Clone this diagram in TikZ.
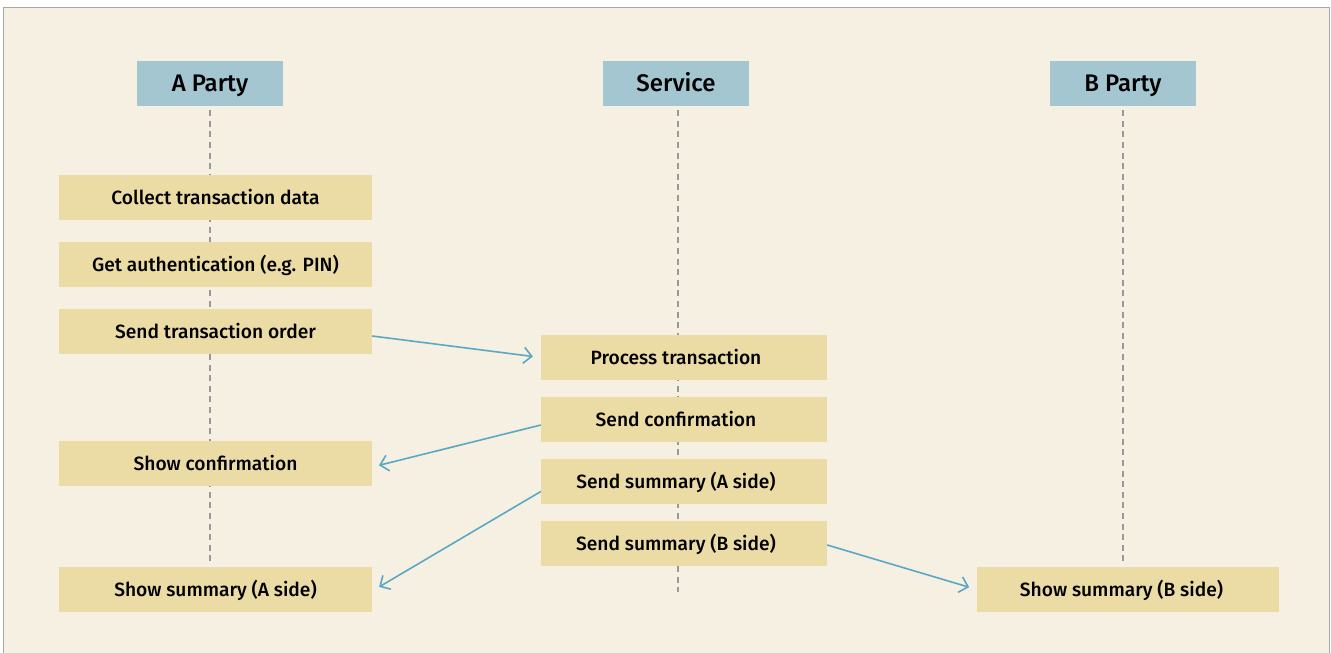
\documentclass[tikz,border=0pt]{standalone}
\usepackage{fontspec}
\setmainfont{Fira Sans}[UprightFont=* Medium, BoldFont=* SemiBold]
\usetikzlibrary{arrows.meta}
\definecolor{bgc}{HTML}{F5F0E2}
\definecolor{hdrc}{HTML}{A3C6D0}
\definecolor{boxc}{HTML}{EBDBA5}
\definecolor{arrc}{HTML}{5BA8C4}
\definecolor{framec}{HTML}{A8A8A8}
\definecolor{linec}{HTML}{999999}
\tikzset{
  hdr/.style={fill=hdrc, minimum width=146pt, minimum height=45pt, inner sep=0pt, text height=16.4pt, text depth=0pt, font=\fontsize{24}{28}\selectfont},
  stepbox/.style={fill=boxc, minimum height=45pt, inner sep=0pt, text height=13.4pt, text depth=0pt, font=\fontsize{19.2}{23}\selectfont},
  abox/.style={stepbox, minimum width=313pt},
  sbox/.style={stepbox, minimum width=286pt},
  bbox/.style={stepbox, minimum width=302pt},
  life/.style={linec, line width=1.1pt, dash pattern=on 6pt off 4.6pt},
  msg/.style={arrc, line width=1.6pt, -{Straight Barb[length=8pt, width=16pt, line width=1.6pt]}},
}
\begin{document}
\begin{tikzpicture}[x=1pt, y=-1pt]
\useasboundingbox (0,0) rectangle (1331,653);
\fill[white] (0,0) rectangle (1331,653);
\draw[framec, line width=1.5pt, fill=bgc] (3.5,7.5) rectangle (1329.5,670);
% headers
\node[hdr] (ha) at (210,83.5) {A Party};
\node[hdr] (hs) at (676,83.5) {Service};
\node[hdr] (hb) at (1123,83.5) {B Party};
% lifeline ends
\coordinate (ea) at (210,565);
\coordinate (es) at (678,592);
\coordinate (eb) at (1123,565);
\draw[life] ([yshift=-4pt]ha.south) -- (ea);
\draw[life] ([xshift=2pt,yshift=-4pt]hs.south) -- (es);
\draw[life] ([yshift=-4pt]hb.south) -- (eb);
% A side
\node[abox] (a1) at (215.5,197.5) {Collect transaction data};
\node[abox] (a2) at (215.5,264.5) {Get authentication (e.g. PIN)};
\node[abox] (a3) at (215.5,331.5) {Send transaction order};
\node[abox] (a4) at (215.5,463.5) {Show confirmation};
\node[abox] (a5) at (215.5,589.5) {Show summary (A side)};
% Service
\node[sbox] (s1) at (684,357.5) {Process transaction\kern16pt};
\node[sbox] (s2) at (684,419.5) {Send confirmation\kern16pt};
\node[sbox] (s3) at (684,481.5) {Send summary (A side)\kern16pt};
\node[sbox] (s4) at (684,543.5) {Send summary (B side)\kern16pt};
% B side
\node[bbox] (b1) at (1128,589.5) {Show summary (B side)\kern13pt};
% messages
\draw[msg, shorten >=8pt] ([yshift=-4.5pt]a3.east) -- (s1.west);
\draw[msg, shorten >=7pt] ([yshift=-5.5pt]s2.west) -- ([yshift=-3.5pt]a4.east);
\draw[msg, shorten >=8pt] ([yshift=-10pt]s3.west) -- ([yshift=-1.5pt]a5.east);
\draw[msg, shorten >=8pt] ([yshift=-1.5pt]s4.east) -- (b1.west);
\end{tikzpicture}
\end{document}
